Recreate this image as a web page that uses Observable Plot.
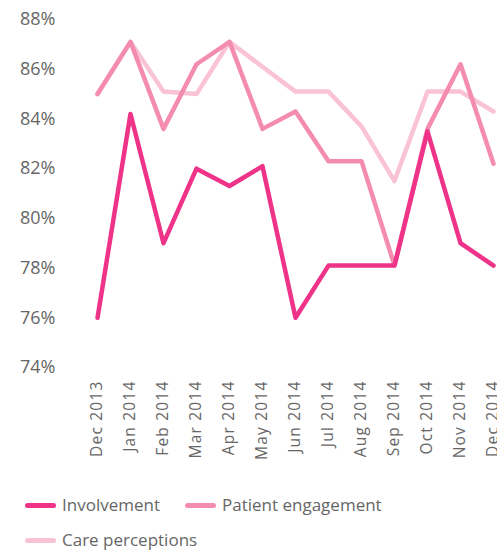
<!DOCTYPE html>
<html>
<head>
<meta charset="utf-8">
<script src="https://cdn.jsdelivr.net/npm/d3@7"></script>
<script src="https://cdn.jsdelivr.net/npm/@observablehq/plot@0.6"></script>
<style>
  html, body { margin: 0; padding: 0; background: #fff; overflow: hidden; }
  body { width: 497px; height: 550px; font-family: "Open Sans", sans-serif; color: #666; position: relative; }
  #legend { position: absolute; left: 25px; top: 494px; width: 470px; font-size: 17px; line-height: 22px; color: #666;
            display: flex; flex-wrap: wrap; row-gap: 13px; column-gap: 25px; }
  .item { display: flex; align-items: center; height: 22px; }
  .sw { display: inline-block; width: 31px; height: 5px; border-radius: 3px; margin-right: 6px; }
  g[aria-label="x-axis tick label"] text { letter-spacing: 1.2px; }
</style>
</head>
<body>
<div id="chart"></div>
<div id="legend"></div>
<script>
const months = ["Dec 2013","Jan 2014","Feb 2014","Mar 2014","Apr 2014","May 2014","Jun 2014","Jul 2014","Aug 2014","Sep 2014","Oct 2014","Nov 2014","Dec 2014"];
const seriesNames = ["Involvement","Patient engagement","Care perceptions"];
const involvement = [76.0, 84.2, 79.0, 82.0, 81.3, 82.1, 76.0, 78.1, 78.1, 78.1, 83.5, 79.0, 78.1];
const patientEngagement = [85.0, 87.1, 83.6, 86.2, 87.1, 83.6, 84.3, 82.3, 82.3, 78.1, 83.6, 86.2, 82.2];
const carePerceptions = [85.0, 87.1, 85.1, 85.0, 87.1, 86.1, 85.1, 85.1, 83.7, 81.5, 85.1, 85.1, 84.3];
const yTicks = [74, 76, 78, 80, 82, 84, 86, 88];
const colors = ["#ee3388", "#f48cb0", "#f9c3d5"];

const valuesBySeries = [involvement, patientEngagement, carePerceptions];
const data = [];
// draw order: Care perceptions bottom, Involvement top
[2, 1, 0].forEach(s => {
  months.forEach((m, i) => data.push({series: seriesNames[s], month: m, value: valuesBySeries[s][i]}));
});

const chart = Plot.plot({
  width: 497,
  height: 470,
  marginTop: 19,
  marginBottom: 103,
  marginLeft: 96,
  marginRight: 3,
  style: {fontFamily: "Open Sans, sans-serif", color: "#666", background: "#fff"},
  x: {type: "point", domain: months, padding: 0},
  y: {domain: [74, 88], ticks: yTicks},
  color: {domain: seriesNames, range: colors},
  marks: [
    Plot.axisY({ticks: yTicks, tickSize: 0, tickPadding: 41, fontSize: 18, tickFormat: d => d + "%", label: null, fill: "#666"}),
    Plot.axisX({tickSize: 0, tickRotate: -90, tickPadding: 13, fontSize: 15.5, label: null, fill: "#666"}),
    Plot.line(data, {x: "month", y: "value", z: "series", stroke: "series", strokeWidth: 4.5, strokeLinejoin: "round", strokeLinecap: "round"})
  ]
});
document.getElementById("chart").appendChild(chart);

const legend = document.getElementById("legend");
seriesNames.forEach((name, i) => {
  const item = document.createElement("span");
  item.className = "item";
  const sw = document.createElement("span");
  sw.className = "sw";
  sw.style.background = colors[i];
  item.appendChild(sw);
  item.appendChild(document.createTextNode(name));
  legend.appendChild(item);
});
</script>
</body>
</html>
